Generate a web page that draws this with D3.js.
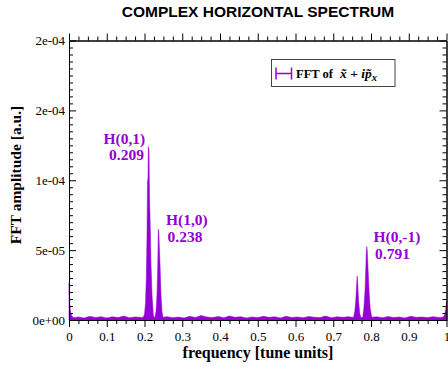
<html>
<head>
<script src="https://d3js.org/d3.v7.min.js"></script>
<style>
  body { margin: 0; background: #fff; }
  text { font-family: "Liberation Serif", "Times New Roman", serif; }
</style>
</head>
<body>
<svg id="chart" width="448" height="374"></svg>
<script>
// spectrum: frequency (tune units) and FFT amplitude
const freq = [
  0, 0.002, 0.004, 0.007, 0.012, 0.025, 0.04, 0.055, 0.07, 0.085, 0.1, 0.115, 0.13, 0.145, 0.16, 0.175, 0.19,
  0.196, 0.2, 0.2026, 0.2048, 0.2066, 0.208, 0.2093, 0.2101, 0.212, 0.2132, 0.2154, 0.2172, 0.2199, 0.2233, 0.2252,
  0.2278, 0.2305, 0.2331, 0.2352, 0.2366, 0.2379, 0.2392, 0.2411, 0.2437, 0.2464, 0.249,
  0.26, 0.275, 0.29, 0.305, 0.32, 0.335, 0.35, 0.365, 0.38, 0.395, 0.41, 0.425, 0.44, 0.455, 0.47, 0.485,
  0.5, 0.515, 0.53, 0.545, 0.56, 0.575, 0.59, 0.605, 0.62, 0.635, 0.65, 0.665, 0.68, 0.695, 0.71, 0.725, 0.74, 0.75,
  0.754, 0.757, 0.76, 0.762, 0.7635, 0.765, 0.767, 0.77, 0.773, 0.776,
  0.778, 0.781, 0.784, 0.786, 0.7875, 0.7888, 0.79, 0.792, 0.795, 0.798, 0.802,
  0.815, 0.83, 0.845, 0.86, 0.875, 0.89, 0.905, 0.92, 0.935, 0.95, 0.965, 0.98, 0.99, 0.995, 0.998, 1
];
const amp = [
  2.65e-5, 1.2e-5, 6e-6, 3e-6, 1.6e-6, 2.2e-6, 1.4e-6, 2.6e-6, 1.8e-6, 2.4e-6, 1.5e-6, 2.3e-6, 1.7e-6, 2.8e-6, 1.6e-6, 2.2e-6, 1.9e-6,
  1.8e-6, 4e-6, 1.2e-5, 3e-5, 6e-5, 1.0e-4, 1.01e-4, 1.24e-4, 1.22e-4, 9e-5, 6.5e-5, 4e-5, 1.8e-5, 4e-6, 2e-6,
  2e-6, 6e-6, 1.8e-5, 4e-5, 6.49e-5, 6.3e-5, 5.3e-5, 4e-5, 1.8e-5, 6e-6, 2e-6,
  2.4e-6, 1.6e-6, 2.1e-6, 1.5e-6, 2.6e-6, 1.8e-6, 3.2e-6, 2.2e-6, 1.7e-6, 2.5e-6, 1.6e-6, 2.9e-6, 1.9e-6, 2.4e-6, 1.5e-6, 2.2e-6,
  1.7e-6, 2.6e-6, 1.9e-6, 2.3e-6, 1.5e-6, 2.7e-6, 1.8e-6, 2.2e-6, 1.6e-6, 2.5e-6, 2.0e-6, 1.7e-6, 2.8e-6, 1.6e-6, 2.3e-6, 1.9e-6, 2.4e-6, 2.0e-6,
  2e-6, 6e-6, 1.5e-5, 2.6e-5, 3.15e-5, 2.5e-5, 1.4e-5, 5e-6, 2e-6, 1.8e-6,
  2e-6, 8e-6, 2e-5, 3.5e-5, 4.8e-5, 5.25e-5, 5e-5, 3.8e-5, 2e-5, 8e-6, 2e-6,
  2.3e-6, 1.6e-6, 2.5e-6, 1.8e-6, 2.2e-6, 1.5e-6, 2.6e-6, 1.9e-6, 2.1e-6, 1.7e-6, 2.4e-6, 1.8e-6, 2e-6, 3.5e-6, 8e-6, 1.31e-5
];

const xMajor = [0, 0.1, 0.2, 0.3, 0.4, 0.5, 0.6, 0.7, 0.8, 0.9, 1];
const xTickLabels = ["0", "0.1", "0.2", "0.3", "0.4", "0.5", "0.6", "0.7", "0.8", "0.9", "1"];
const yMajor = [0, 5e-5, 1e-4, 1.5e-4, 2e-4];
const yTickLabels = ["0e+00", "5e-05", "1e-04", "2e-04", "2e-04"];

// peak annotations
const peakNames = ["H(0,1)", "H(1,0)", "H(0,-1)"];
const peakTunes = ["0.209", "0.238", "0.791"];

const color = "#9400d3";
const svg = d3.select("#chart");
const mLeft = 69, mRight = 446.5, mTop = 40.5, mBottom = 320;

const x = d3.scaleLinear().domain([0, 1]).range([mLeft, mRight]);
const y = d3.scaleLinear().domain([0, 2e-4]).range([mBottom, mTop]);

const data = freq.map((f, i) => [f, amp[i]]);

// filled spectrum
svg.append("path")
    .datum(data)
    .attr("fill", color)
    .attr("stroke", color)
    .attr("stroke-width", 0.5)
    .attr("d", d3.area().x(d => x(d[0])).y0(y(0)).y1(d => y(d[1])));

const xMinor = d3.range(0, 1.0001, 0.025).filter(v => Math.abs(v * 10 - Math.round(v * 10)) > 1e-6);
const yMinor = d3.range(0, 2.00001e-4, 5e-6).filter(v => Math.abs(v / 5e-5 - Math.round(v / 5e-5)) > 1e-6);

function axisGroup(gen, tx, ty) {
    const g = svg.append("g").attr("transform", `translate(${tx},${ty})`).call(gen);
    g.selectAll("text").attr("font-size", 13).attr("fill", "#000")
        .style("font-family", "'Liberation Serif', serif");
    g.selectAll("line").attr("stroke", "#000");
    g.select(".domain").attr("stroke", "#000");
    return g;
}

// bottom axis: ticks outward
axisGroup(d3.axisBottom(x).tickValues(xMajor).tickSize(7).tickSizeOuter(0).tickPadding(5)
    .tickFormat((d, i) => xTickLabels[i]), 0, mBottom);
axisGroup(d3.axisBottom(x).tickValues(xMinor).tickSize(4).tickSizeOuter(0).tickFormat(""), 0, mBottom);

// top axis: ticks outward
axisGroup(d3.axisTop(x).tickValues(xMajor).tickSize(7).tickSizeOuter(0).tickFormat(""), 0, mTop);
axisGroup(d3.axisTop(x).tickValues(xMinor).tickSize(4).tickSizeOuter(0).tickFormat(""), 0, mTop);

// left axis: ticks inward
axisGroup(d3.axisLeft(y).tickValues(yMajor).tickSize(-7).tickSizeOuter(0).tickPadding(4)
    .tickFormat((d, i) => yTickLabels[i]), mLeft, 0);
axisGroup(d3.axisLeft(y).tickValues(yMinor).tickSize(-4).tickSizeOuter(0).tickFormat(""), mLeft, 0);

// right axis: ticks inward
axisGroup(d3.axisRight(y).tickValues(yMajor).tickSize(-7).tickSizeOuter(0).tickFormat(""), mRight, 0);
axisGroup(d3.axisRight(y).tickValues(yMinor).tickSize(-4).tickSizeOuter(0).tickFormat(""), mRight, 0);

// title
svg.append("text")
    .attr("x", 258).attr("y", 16.5)
    .attr("text-anchor", "middle")
    .style("font-family", "'Liberation Sans', Arial, sans-serif")
    .attr("font-weight", "bold").attr("font-size", 15.5)
    .text("COMPLEX HORIZONTAL SPECTRUM");

// axis titles
svg.append("text")
    .attr("x", 258).attr("y", 358)
    .attr("text-anchor", "middle")
    .attr("font-weight", "bold").attr("font-size", 16)
    .text("frequency [tune units]");

svg.append("text")
    .attr("transform", "translate(21,175) rotate(-90)")
    .attr("text-anchor", "middle")
    .attr("font-weight", "bold").attr("font-size", 15.5)
    .text("FFT amplitude [a.u.]");

// peak labels
const labelPos = [[103.5, 143.5, 109, 159.5], [166, 225, 167.5, 241.5], [373.5, 242, 375, 259]];
peakNames.forEach((name, i) => {
    const p = labelPos[i];
    svg.append("text").attr("x", p[0]).attr("y", p[1])
        .attr("fill", color).attr("font-weight", "bold").attr("font-size", 15.5).text(name);
    svg.append("text").attr("x", p[2]).attr("y", p[3])
        .attr("fill", color).attr("font-weight", "bold").attr("font-size", 15.5).text(peakTunes[i]);
});

// legend
const lg = svg.append("g");
lg.append("rect")
    .attr("x", 271.5).attr("y", 59.5).attr("width", 123.5).attr("height", 27)
    .attr("fill", "#fff").attr("stroke", "#444").attr("stroke-width", 1);
lg.append("path")
    .attr("d", "M276,67.5V79.5M276,73.5H291.5M291.5,67.5V79.5")
    .attr("stroke", color).attr("stroke-width", 1.5).attr("fill", "none");
const lt = lg.append("text").attr("x", 296).attr("y", 77.5)
    .attr("font-weight", "bold").attr("font-size", 12.5);
lt.append("tspan").text("FFT of");
lt.append("tspan").attr("x", 340).attr("font-style", "italic").attr("font-size", 13.5).text("x\u0303");
lt.append("tspan").attr("font-size", 13.5).text(" + ");
lt.append("tspan").attr("font-style", "italic").attr("font-size", 13.5).text("ip\u0303");
lt.append("tspan").attr("font-style", "italic").attr("font-size", 10.5).attr("dy", 3).text("x");
</script>
</body>
</html>
